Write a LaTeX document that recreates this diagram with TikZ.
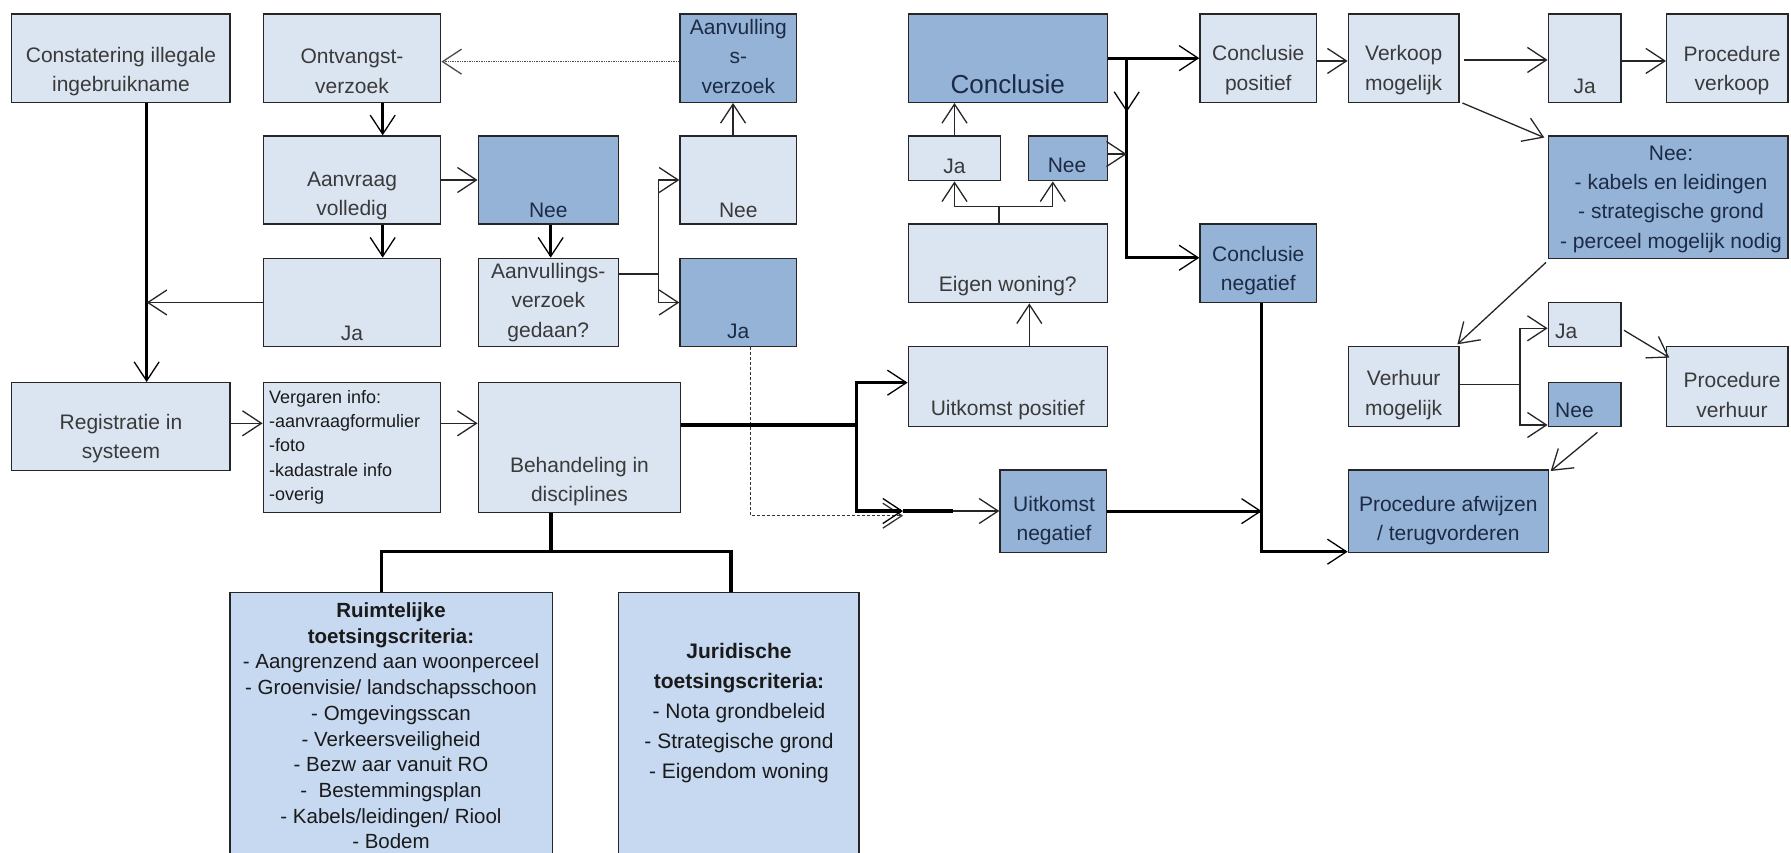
\documentclass[tikz,border=0pt]{standalone}
\usepackage{fontspec}
\setmainfont{Liberation Sans}
\usetikzlibrary{arrows.meta,fit}
\definecolor{lightbox}{HTML}{DBE5F1}
\definecolor{darkbox}{HTML}{95B3D7}
\definecolor{midbox}{HTML}{C6D9F1}
\definecolor{edgec}{HTML}{262626}
\definecolor{ltext}{HTML}{3A3A3A}
\definecolor{dtext}{HTML}{1C2B45}
\definecolor{mtext}{HTML}{1A1A1A}
\tikzset{
  anybox/.style={draw=edgec,line width=1.4pt,inner sep=0pt,rectangle},
  lbox/.style={anybox,fill=lightbox},
  dbox/.style={anybox,fill=darkbox},
  mbox/.style={anybox,fill=midbox},
  txt/.style={font=\fontsize{21pt}{29.4pt}\selectfont,align=center,inner sep=0pt,text=ltext},
  dtxt/.style={txt,text=dtext},
  thn/.style={line width=1.3pt,draw=black!85},
  thk/.style={line width=3.2pt,draw=black},
  dotl/.style={line width=1.4pt,draw=black!70,densely dotted},
  dashl/.style={line width=1.1pt,draw=black!80,dash pattern=on 3pt off 2pt},
}
\begin{document}
\begin{tikzpicture}[x=1pt,y=-1pt,>={Straight Barb[length=19pt,width=25pt,line width=1.3pt]}]
\useasboundingbox (0,0) rectangle (1791,853);
\fill[white] (0,0) rectangle (1791,853);
\clip (0,0) rectangle (1791,853);
% boxes
\node[lbox,fit={(11.7,14)(230,102.3)}] (constat) {};
\node[lbox,fit={(263.3,14)(440.7,102.3)}] (ontv) {};
\node[lbox,fit={(263.3,136)(440.7,224)}] (aanvr) {};
\node[lbox,fit={(263.3,258.3)(440.7,346.7)}] (jaL) {};
\node[dbox,fit={(478.3,136)(618.3,224)}] (neeD) {};
\node[lbox,fit={(478.3,258.3)(618.3,346.7)}] (avg) {};
\node[dbox,fit={(680,14)(796.7,102.3)}] (aanv) {};
\node[lbox,fit={(680,136)(796.7,224)}] (neeL) {};
\node[dbox,fit={(680,258.3)(796.7,346.7)}] (jaD) {};
\node[lbox,fit={(11.7,382.7)(230,470.7)}] (registr) {};
\node[lbox,fit={(263.3,382.7)(440.7,512.3)}] (verg) {};
\node[lbox,fit={(478.3,382.7)(680.7,512.3)}] (behand) {};
\node[dbox,fit={(908.3,14)(1107.3,102.3)}] (conc) {};
\node[lbox,fit={(908.3,136)(1000.7,180.7)}] (jaS) {};
\node[dbox,fit={(1028.3,136)(1107.3,180.7)}] (neeS) {};
\node[lbox,fit={(908.3,224)(1107.3,302.7)}] (eigen) {};
\node[lbox,fit={(908.3,346.7)(1107.3,426.7)}] (uitpos) {};
\node[dbox,fit={(1000,470)(1106.7,552.3)}] (uitneg) {};
\node[lbox,fit={(1200,14)(1316.7,102.3)}] (concpos) {};
\node[dbox,fit={(1200,224)(1316.7,302.7)}] (concneg) {};
\node[lbox,fit={(1348.3,14)(1459,102.3)}] (verkoop) {};
\node[lbox,fit={(1548.3,14)(1621,102.3)}] (jaT) {};
\node[lbox,fit={(1666.7,14)(1788,102.3)}] (procverk) {};
\node[dbox,fit={(1548.3,136)(1788,258.3)}] (neeBig) {};
\node[lbox,fit={(1348.3,346.7)(1459,426.7)}] (verhuur) {};
\node[lbox,fit={(1548.3,302.7)(1621,346.7)}] (jaV) {};
\node[dbox,fit={(1548.3,382.7)(1621,426.7)}] (neeV) {};
\node[lbox,fit={(1666.7,346.7)(1788,426.7)}] (procverh) {};
\node[dbox,fit={(1348.3,470)(1548.3,552.3)}] (procafw) {};
\node[mbox,fit={(230,592.7)(552.3,870)}] (ruimt) {};
\node[mbox,fit={(618.3,592.7)(859,870)}] (jurid) {};
% texts
\node[txt] (t-constat) at (121,71.3) {Constatering illegale\\ingebruikname};
\node[txt] (t-ontv) at (352,71.3) {Ontvangst-\\verzoek};
\node[txt] (t-aanvr) at (352,195.8) {Aanvraag\\volledig};
\node[txt] (t-jaL) at (352,333.3) {Ja};
\node[dtxt] (t-neeD) at (548.3,210) {Nee};
\node[txt] (t-avg) at (548.3,302.5) {Aanvullings-\\verzoek\\gedaan?};
\node[dtxt] (t-aanv) at (738.3,56.3) {Aanvulling\\s-\\verzoek};
\node[txt] (t-neeL) at (738.3,210) {Nee};
\node[dtxt] (t-jaD) at (738.3,331.7) {Ja};
\node[txt] (t-registr) at (121,438.3) {Registratie in\\systeem};
\node[txt,font=\fontsize{18pt}{24.4pt}\selectfont,align=left,anchor=west,text=mtext] (t-verg) at (269,447.2) {Vergaren info:\\-aanvraagformulier\\-foto\\-kadastrale info\\-overig};
\node[txt] (t-behand) at (579.5,481.3) {Behandeling in\\disciplines};
\node[dtxt,font=\fontsize{26pt}{30pt}\selectfont] (t-conc) at (1007.8,84.5) {Conclusie};
\node[txt] (t-jaS) at (954.5,166) {Ja};
\node[dtxt] (t-neeS) at (1067,165.7) {Nee};
\node[txt] (t-eigen) at (1007.8,286) {Eigen woning?};
\node[txt] (t-uitpos) at (1007.8,410) {Uitkomst positief};
\node[dtxt] (t-uitneg) at (1054,520.5) {Uitkomst\\negatief};
\node[txt] (t-concpos) at (1258.3,70) {Conclusie\\positief};
\node[dtxt] (t-concneg) at (1258.3,270.5) {Conclusie\\negatief};
\node[txt] (t-verkoop) at (1403.7,70) {Verkoop\\mogelijk};
\node[txt] (t-jaT) at (1584.7,86) {Ja};
\node[txt] (t-procverk) at (1732,70.5) {Procedure\\verkoop};
\node[dtxt] (t-neeBig) at (1671,199.2) {Nee:\\- kabels en leidingen\\- strategische grond\\- perceel mogelijk nodig};
\node[txt] (t-verhuur) at (1403.7,395) {Verhuur\\mogelijk};
\node[txt,anchor=west] (t-jaV) at (1555,331.7) {Ja};
\node[dtxt,anchor=west] (t-neeV) at (1555,410) {Nee};
\node[txt] (t-procverh) at (1732,395) {Procedure\\verhuur};
\node[dtxt] (t-procafw) at (1448.3,520.5) {Procedure afwijzen\\/ terugvorderen};
\node[txt,font=\fontsize{20.5pt}{25.7pt}\selectfont,text=mtext] (t-ruimt) at (391,725.9) {\textbf{Ruimtelijke}\\\textbf{toetsingscriteria:}\\- Aangrenzend aan woonperceel\\- Groenvisie/ landschapsschoon\\- Omgevingsscan\\- Verkeersveiligheid\\- Bezw aar vanuit RO\\-\ \ Bestemmingsplan\\- Kabels/leidingen/ Riool\\- Bodem};
\node[txt,font=\fontsize{21pt}{30pt}\selectfont,text=mtext] (t-jurid) at (739,713.3) {\textbf{Juridische}\\\textbf{toetsingscriteria:}\\- Nota grondbeleid\\- Strategische grond\\- Eigendom woning};
% connectors left part
\coordinate (v1) at (146.7,0);
\draw[thk,->] ([xshift=25.8pt]constat.south) -- ([xshift=25.8pt]registr.north);
\draw[thn,->] (jaL.west) -- (jaL.west -| v1);
\draw[thk,->] ([xshift=30.7pt]ontv.south) -- ([xshift=30.7pt]aanvr.north);
\draw[thk,->] ([xshift=30.7pt]aanvr.south) -- ([xshift=30.7pt]jaL.north);
\draw[thn,->] (aanvr.east) -- (neeD.west);
\draw[thn,->] ([yshift=3.4pt]registr.east) -- ([yshift=3.4pt]registr.east -| verg.west);
\draw[thn,->] ([yshift=24.2pt]verg.east) -- ([yshift=24.2pt]verg.east -| behand.west);
\draw[thk,->] ([xshift=2.4pt]neeD.south) -- ([xshift=2.4pt]avg.north);
\coordinate (b1) at (658.3,274);
\draw[thn] (avg.east |- b1) -- (b1);
\draw[thn,->] (b1) |- (neeL.west);
\draw[thn,->] (b1) |- (jaD.west);
\draw[thn,->] ([xshift=-5.3pt]neeL.north) -- ([xshift=-5.3pt]aanv.south);
\draw[dotl,->] ([yshift=-3.5pt]aanv.west) -- ([yshift=-3.5pt]aanv.west -| ontv.east);
\coordinate (d2) at (903,515.7);
\draw[dashl,->] ([xshift=11.7pt]jaD.south) |- (d2);
% middle part
\coordinate (b2) at (856.7,425);
\draw[thk] (behand.east |- b2) -- (b2);
\draw[thk,->] (b2) |- ([yshift=4pt]uitpos.west);
\coordinate (b3) at (903,511);
\coordinate (b4) at (953,511);
\draw[thk,->] (b2) |- (b3);
\draw[thk] (b3) -- (b4);
\draw[thn,->] (b4) -- (b4 -| uitneg.west);
\coordinate (b5) at (551,551.7);
\draw[thk] ([xshift=-28.5pt]behand.south) -- (b5);
\draw[thk] ([xshift=-10pt]ruimt.north) -- ([xshift=-10pt]ruimt.north |- b5) -- ([xshift=-7.7pt]jurid.north |- b5) -- ([xshift=-7.7pt]jurid.north);
% right part
\coordinate (b6) at (1126.7,58.3);
\coordinate (b7) at (1126.7,112);
\draw[thk,->] (conc.east) -- (concpos.west);
\draw[thk,->] (b6) -- (b7);
\draw[thk,->] (b6) |- ([yshift=5.6pt]concneg.west);
\draw[thn,->] (jaS.north) -- (jaS.north |- conc.south);
\coordinate (b8) at (999,206.7);
\draw[thn] ([xshift=-8.8pt]eigen.north) -- (b8);
\draw[thn,->] (b8) -| (jaS.south);
\draw[thn,->] (b8) -| ([xshift=-15pt]neeS.south);
\draw[thn,->] ([yshift=4.3pt]neeS.east) -- ([yshift=4.3pt]neeS.east -| b6);
\draw[thn,->] ([xshift=21.5pt]uitpos.north) -- ([xshift=21.5pt]uitpos.north |- eigen.south);
\coordinate (b9) at (1261.7,0);
\draw[thk,->] (uitneg.east) -- (uitneg.east -| b9);
\draw[thk,->] ([xshift=3.4pt]concneg.south) |- ([yshift=1.3pt]procafw.south west);
\draw[thn,->] ([yshift=-2.8pt]concpos.east) -- ([yshift=-2.8pt]concpos.east -| verkoop.west);
\draw[thn,->] ([xshift=4.3pt,yshift=-1.8pt]verkoop.east) -- ([yshift=-1.8pt]verkoop.east -| jaT.west);
\draw[thn,->] ([yshift=-2.8pt]jaT.east) -- ([yshift=-2.8pt]jaT.east -| procverk.west);
\draw[thn,->] ([xshift=2.7pt]verkoop.south east) -- ([xshift=-3.3pt,yshift=-2.3pt]neeBig.north west);
\draw[thn,->] ([xshift=-1.6pt,yshift=-3.4pt]neeBig.south west) -- ([xshift=-2.3pt,yshift=1.7pt]verhuur.north east);
\coordinate (b10) at (1520,384.3);
\draw[thn] ([yshift=2.4pt]verhuur.east) -- (b10);
\draw[thn,->] (b10) |- ([yshift=-3.6pt]jaV.west);
\draw[thn,->] (b10) |- ([yshift=-20.3pt]neeV.west);
\draw[thn,->] ([xshift=2.3pt,yshift=-5.6pt]jaV.east) -- ([xshift=3.3pt,yshift=-11.6pt]procverh.north west);
\draw[thn,->] ([xshift=-24.3pt,yshift=-5pt]neeV.south east) -- ([xshift=1.7pt,yshift=-1.7pt]procafw.north east);
\end{tikzpicture}
\end{document}
